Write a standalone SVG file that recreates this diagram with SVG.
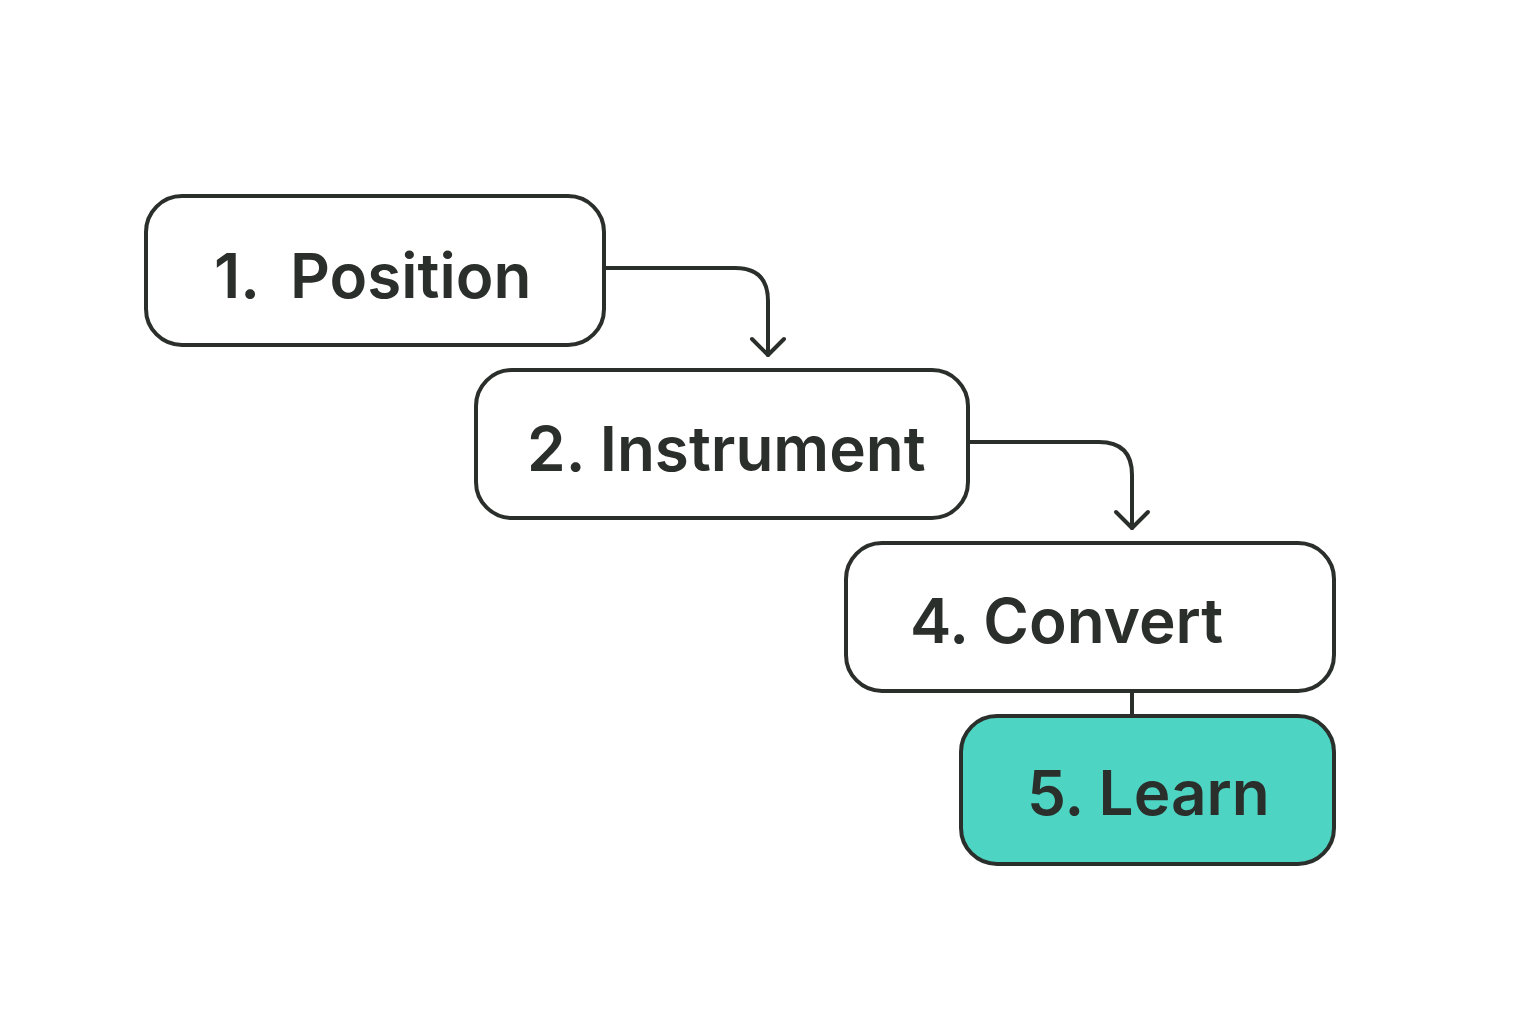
<svg xmlns="http://www.w3.org/2000/svg" width="1536" height="1024" viewBox="0 0 1536 1024">
<style>
.box{fill:#fff;stroke:#2b2f2b;stroke-width:4}
.t{font-family:Inter,"Open Sans",sans-serif;font-weight:600;font-size:62px;fill:#2b2f2b}
.c{fill:none;stroke:#2b2f2b;stroke-width:4;stroke-linecap:round;stroke-linejoin:round}
</style>
<rect width="1536" height="1024" fill="#fff"/>
<g id="connectors">
<path class="c" d="M604 268 H735 Q768 268 768 301 V355"/>
<path class="c" d="M752 339 L768 355 L784 339"/>
<path class="c" d="M968 442 H1099 Q1132 442 1132 475 V528"/>
<path class="c" d="M1116 512 L1132 528 L1148 512"/>
<path class="c" d="M1132 691 V716"/>
</g>
<g id="n1"><rect class="box" x="146" y="196" width="458" height="149" rx="36"/><text class="t" x="214" y="298" xml:space="preserve">1.  Position</text></g>
<g id="n2"><rect class="box" x="476" y="370" width="492" height="148" rx="36"/><text class="t" x="527" y="471">2. Instrument</text></g>
<g id="n4"><rect class="box" x="846" y="543" width="488" height="148" rx="36"/><text class="t" x="910" y="643">4. Convert</text></g>
<g id="n5"><rect class="box" x="961" y="716" width="373" height="148" rx="36" style="fill:#4dd4c2"/><text class="t" x="1027" y="815">5. Learn</text></g>
</svg>
